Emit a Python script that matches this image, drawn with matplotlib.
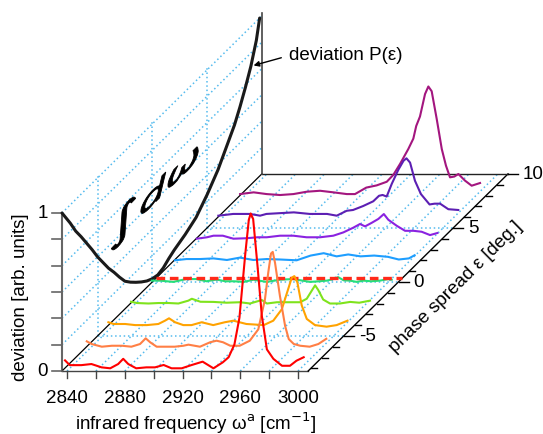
import numpy as np
import matplotlib.pyplot as plt
from matplotlib.textpath import TextPath
from matplotlib.patches import PathPatch
from matplotlib.font_manager import FontProperties
from matplotlib.transforms import Affine2D

plt.rcParams['font.family'] = ['Liberation Sans', 'DejaVu Sans']

# phase spread of every spectrum (front to back) and its colour
eps_curves = [-8, -6, -4, -2, 0, 2, 4, 6, 8]
colors = ['#ff0000', '#ff7f45', '#ffa200', '#7fe31c', '#25e07a',
          '#1e9eff', '#8a22e0', '#5c1fb3', '#a3167f']

# spectra: infrared frequency (cm-1) and deviation (arb. units)
w_red = [2836.7, 2840, 2848, 2855, 2862, 2868, 2873.5, 2877, 2880.5, 2886, 2893, 2899, 2905, 2910.5,
         2917.5, 2924.5, 2932, 2939.5, 2946, 2950, 2954, 2957.5, 2961.5, 2964, 2965.3, 2967, 2970,
         2973, 2976.5, 2981, 2987, 2992.5, 2997, 3002]
p_red = [0.05, 0.02, 0.02, 0.027, 0.006, 0.0, 0.027, 0.06, 0.027, 0.0, 0.006, 0.006, 0.021, 0.0,
         0.0, 0.021, 0.042, 0.0, 0.038, 0.07, 0.15, 0.32, 0.72, 0.94, 0.98, 0.945, 0.65,
         0.333, 0.12, 0.06, 0.016, 0.016, 0.048, 0.07]

w_coral = [2836.6, 2840, 2847, 2854, 2861, 2867.5, 2873.5, 2877.4, 2880.5, 2885, 2891, 2897.5, 2903.5,
           2907, 2915, 2922, 2926.5, 2931, 2936, 2942.5, 2949.5, 2955.4, 2960, 2962.3, 2964.2, 2965.4,
           2967, 2970.4, 2974, 2976.5, 2980, 2984.5, 2991, 2997, 3002.5]
p_coral = [0.034, 0.017, 0.0, 0.006, 0.006, 0.0, 0.017, 0.053, 0.028, 0.0, 0.0, 0.0, 0.006,
           0.013, 0.0, 0.028, 0.038, 0.028, 0.006, 0.006, 0.038, 0.11, 0.3, 0.47, 0.59, 0.6,
           0.53, 0.32, 0.13, 0.048, 0.017, 0.006, 0.0, 0.017, 0.05]

w_orange = [2836.4, 2840, 2848, 2855, 2863, 2871, 2875.6, 2878.4, 2882.6, 2888.3, 2894, 2901, 2909,
            2917, 2923, 2932, 2944, 2950.6, 2956.5, 2960.3, 2963.4, 2965.2, 2967.3, 2970.3, 2973.8,
            2979.5, 2987.5, 2994.5, 3002]
p_orange = [0.018, 0.007, 0.007, 0.0, 0.0, 0.007, 0.028, 0.043, 0.018, 0.0, 0.0, 0.018, 0.0,
            0.018, 0.028, 0.007, 0.0, 0.028, 0.1, 0.21, 0.30, 0.31, 0.27, 0.125, 0.039,
            0.0, -0.01, 0.0, 0.028]

w_lime = [2836.9, 2841, 2849, 2856, 2863, 2869.7, 2876.6, 2879, 2885, 2894, 2903, 2912.4, 2919.3,
          2927.5, 2931, 2938, 2947, 2954, 2958.6, 2962, 2964.4, 2966.6, 2970, 2974.7, 2981.6,
          2988.7, 2995, 3002.4]
p_lime = [0.011, 0.003, 0.0, 0.003, 0.003, 0.0, 0.018, 0.03, 0.011, 0.01, 0.005, 0.008, 0.0,
          0.022, 0.0, 0.008, 0.008, 0.008, 0.03, 0.08, 0.115, 0.085, 0.025, 0.0, 0.0,
          0.01, 0.005, 0.018]

w_green = [2836.1, 2842, 2851, 2860, 2867, 2874, 2881, 2887, 2893, 2900, 2906.5, 2915.7, 2925,
           2934, 2938, 2945.7, 2952, 2957.3, 2961, 2965.2, 2969, 2973.4, 2978, 2982.7, 2988,
           2994, 3000, 3002.3]
p_green = [0.008, 0.008, 0.0, 0.018, 0.018, 0.004, 0.015, 0.004, 0.004, 0.0, 0.014, 0.0, 0.014,
           0.018, 0.012, 0.0, 0.004, 0.008, 0.016, 0.03, 0.01, 0.008, 0.0, 0.008, 0.004,
           0.008, 0.018, 0.014]

w_blue = [2837, 2845, 2854.4, 2863.6, 2873, 2882, 2891.3, 2900.6, 2910, 2921.3, 2931, 2940, 2949,
          2957, 2965.5, 2975, 2984.5, 2992, 2999, 3003]
p_blue = [0.0, 0.008, 0.008, 0.012, 0.002, 0.017, 0.002, 0.008, 0.005, 0.0, 0.03, 0.045, 0.025,
          0.037, 0.025, 0.03, 0.022, 0.005, 0.012, 0.032]

w_purple = [2837, 2844, 2848.5, 2855, 2862.3, 2871.5, 2879, 2885.4, 2894.6, 2903.8, 2913, 2922.3,
            2931.5, 2938.5, 2945.4, 2950, 2953.5, 2958, 2962.7, 2966.5, 2969.6, 2975.4, 2981.2,
            2987, 2992.7, 2998.5, 3003.6]
p_purple = [0.0, 0.009, 0.019, 0.019, 0.0, 0.003, 0.009, 0.009, 0.019, 0.019, 0.009, 0.009,
            0.019, 0.04, 0.07, 0.093, 0.078, 0.1, 0.125, 0.156, 0.12, 0.082, 0.05,
            0.05, 0.044, 0.023, 0.036]

w_indigo = [2836.7, 2847, 2858.7, 2865.6, 2870, 2879.4, 2889, 2900, 2912, 2918.7, 2925.6, 2930,
            2937, 2944, 2948, 2950.5, 2953.3, 2956.8, 2961.4, 2965, 2967, 2969.5, 2972.9, 2977,
            2983, 2986.5, 2990.3, 2996, 3002.9]
p_indigo = [0.009, 0.02, 0.02, 0.009, 0.02, 0.025, 0.03, 0.02, 0.02, 0.009, 0.04, 0.045,
            0.07, 0.1, 0.135, 0.14, 0.13, 0.21, 0.30, 0.357, 0.372, 0.345, 0.23, 0.146,
            0.08, 0.085, 0.085, 0.05, 0.045]

w_magenta = [2836.6, 2846, 2855, 2864.3, 2873.5, 2882.8, 2892, 2901.2, 2910.5, 2916.2, 2924, 2931.2,
             2938.2, 2942.7, 2947.4, 2953.1, 2956.6, 2958.6, 2961.2, 2964.7, 2967, 2969.3, 2972.8,
             2976.3, 2979.2, 2982, 2985, 2987.8, 2992.4, 2997, 3002.8]
p_magenta = [0.009, 0.02, 0.009, 0.003, 0.009, 0.024, 0.03, 0.02, 0.009, 0.009, 0.05, 0.064,
             0.087, 0.13, 0.2, 0.294, 0.36, 0.44, 0.5, 0.642, 0.69, 0.66, 0.484,
             0.294, 0.189, 0.115, 0.12, 0.136, 0.094, 0.062, 0.079]

w_all = [w_red, w_coral, w_orange, w_lime, w_green, w_blue, w_purple, w_indigo, w_magenta]
p_all = [p_red, p_coral, p_orange, p_lime, p_green, p_blue, p_purple, p_indigo, p_magenta]

# deviation P(eps) drawn on the left wall
eps_dev = [-8.25, -7.5, -7, -6.5, -6, -5.5, -5, -4.5, -4, -3.5, -3, -2.5, -2, -1.5, -1, -0.5,
           0, 0.5, 1, 1.5, 2, 3, 4, 5, 6, 7, 7.5, 8, 8.5, 9, 9.5, 9.8]
dev = [1.0, 0.885, 0.80, 0.73, 0.655, 0.58, 0.50, 0.43, 0.36, 0.30, 0.235, 0.175, 0.135, 0.10,
       0.068, 0.04, 0.02, 0.01, 0.02, 0.045, 0.065, 0.095, 0.135, 0.21, 0.30, 0.42, 0.48,
       0.56, 0.65, 0.75, 0.88, 1.0]
eps_opt = 0.35  # position of the dashed red marker

x_ticks = [2840, 2860, 2880, 2900, 2920, 2940, 2960, 2980, 3000]
x_labels = [2840, 2880, 2920, 2960, 3000]
e_ticks = list(range(-8, 11))
e_labels = [-5, 0, 5, 10]

# axis ranges and oblique projection (in pixels of the 543x435 picture)
W0, W1 = 2836.5, 3007
E0, E1 = -8.25, 10
P_TOP = 1.02
X0, Y0 = 62, 372
SX = 1.4438          # px per cm-1
EX, EY = 10.95, 10.8  # px per degree of phase spread
PY = 158             # px per deviation unit


def proj(w, e, p):
    w = np.asarray(w, float)
    e = np.asarray(e, float)
    p = np.asarray(p, float)
    return X0 + (w - W0) * SX + (e - E0) * EX, Y0 - (e - E0) * EY - p * PY


fig = plt.figure(figsize=(5.43, 4.35), dpi=100)
ax = fig.add_axes([0, 0, 1, 1])
ax.set_xlim(0, 543)
ax.set_ylim(435, 0)
ax.axis('off')

fs = 13.5
grid_kw = dict(color='#55bbee', lw=1.1, ls=(0, (1, 1.8)), zorder=1)

# floor grid
for w in x_ticks:
    ax.plot(*proj([w, w], [E0, E1], [0, 0]), **grid_kw)
for e in [-5, 0, 5]:
    ax.plot(*proj([W0, W1], [e, e], [0, 0]), **grid_kw)
    ax.plot(*proj([W0, W0], [e, e], [0, P_TOP]), **grid_kw)  # left wall verticals
# left wall diagonals
for k in range(1, 7):
    ax.plot(*proj([W0, W0], [E0, E1], [k / 6, k / 6]), **grid_kw)

# box lines
ax.plot(*proj([W0, W1], [E0, E0], [0, 0]), color='#444444', lw=1.0, zorder=2)
ax.plot(*proj([W0, W0], [E0, E0], [0, 1]), color='#666666', lw=1.5, zorder=2)
ax.plot(*proj([W0, W0], [E0, E1], [0, 0]), color='black', lw=0.9, zorder=2)
ax.plot(*proj([W1, W1], [E0, E1], [0, 0]), color='black', lw=1.0, zorder=2)
ax.plot(*proj([W0, W1], [E1, E1], [0, 0]), color='#222222', lw=1.0, zorder=2)
ax.plot(*proj([W0, W0], [E1, E1], [0, P_TOP]), color='#444444', lw=1.2, zorder=2)

# bottom ticks
for w in x_ticks:
    x, y = proj(w, E0, 0)
    ax.plot([x, x], [y, y + 7], color='#444444', lw=1.0)
    if w in x_labels:
        ax.text(x, y + 27, str(w), ha='center', va='center', fontsize=fs)

# left ticks
for k in range(7):
    x, y = proj(W0, E0, k / 6)
    ax.plot([x - 10, x], [y, y], color='#666666', lw=1.2)
ax.text(proj(W0, E0, 0)[0] - 14, proj(W0, E0, 0)[1], '0', ha='right', va='center', fontsize=fs)
ax.text(proj(W0, E0, 1)[0] - 14, proj(W0, E0, 1)[1], '1', ha='right', va='center', fontsize=fs)

# phase spread ticks
for e in e_ticks:
    x, y = proj(W1, e, 0)
    ln = 10 if e in e_labels else 6
    ax.plot([x, x + ln], [y, y], color='black', lw=1.0)
    if e in e_labels:
        ax.text(x + 15, y, str(e), ha='left', va='center', fontsize=fs)

# axis labels
ax.text(196, 430, 'infrared frequency ω$^{\\mathrm{a}}$ [cm$^{\\mathrm{-1}}$]', ha='center',
        va='baseline', fontsize=fs)
ax.text(21, 297, 'deviation [arb. units]', ha='center', va='center', rotation=90, fontsize=fs)
ang = np.degrees(np.arctan2(EY, EX))
ax.text(456, 287, 'phase spread ε [deg.]', ha='center', va='center',
        rotation=ang, rotation_mode='anchor', fontsize=fs)

# deviation curve on the left wall
dx, dy = proj(np.full(len(dev), W0), eps_dev, dev)
ax.plot(dx, dy, color='#1a1a1a', lw=2.2, zorder=3, solid_capstyle='round')

# integral sign written in the wall plane (sheared along the depth direction)
tp = TextPath((0, 0), r'$\int d\omega$', size=1, prop=FontProperties(family='DejaVu Sans'))
Su, Sv = 42, 26
tr = Affine2D(np.array([[Su, 0, 108], [-Su * EY / EX, -Sv, 250], [0, 0, 1]]))
ax.add_patch(PathPatch(tr.transform_path(tp), fc='black', ec='black', lw=0.6, zorder=3))

# arrow and label for the deviation curve
i9 = eps_dev.index(9)
ax.annotate('', xy=proj(W0, eps_dev[i9], dev[i9]), xytext=(284, 58),
            arrowprops=dict(arrowstyle='-|>', color='black', lw=1.0, mutation_scale=8))
ax.text(289, 55, 'deviation P(ε)', ha='left', va='center', fontsize=fs)

# spectra, back to front
for i in range(len(eps_curves) - 1, -1, -1):
    x, y = proj(w_all[i], eps_curves[i], p_all[i])
    ax.plot(x, y, color=colors[i], lw=1.5, zorder=4, solid_joinstyle='round')
    if eps_curves[i] == 0:
        ax.plot(*proj([W0, W1], [eps_opt, eps_opt], [0, 0]), color='#ff2a1a', lw=2.4,
                ls=(0, (2.6, 1.4)), zorder=4)

fig.savefig('out.png', dpi=100)
